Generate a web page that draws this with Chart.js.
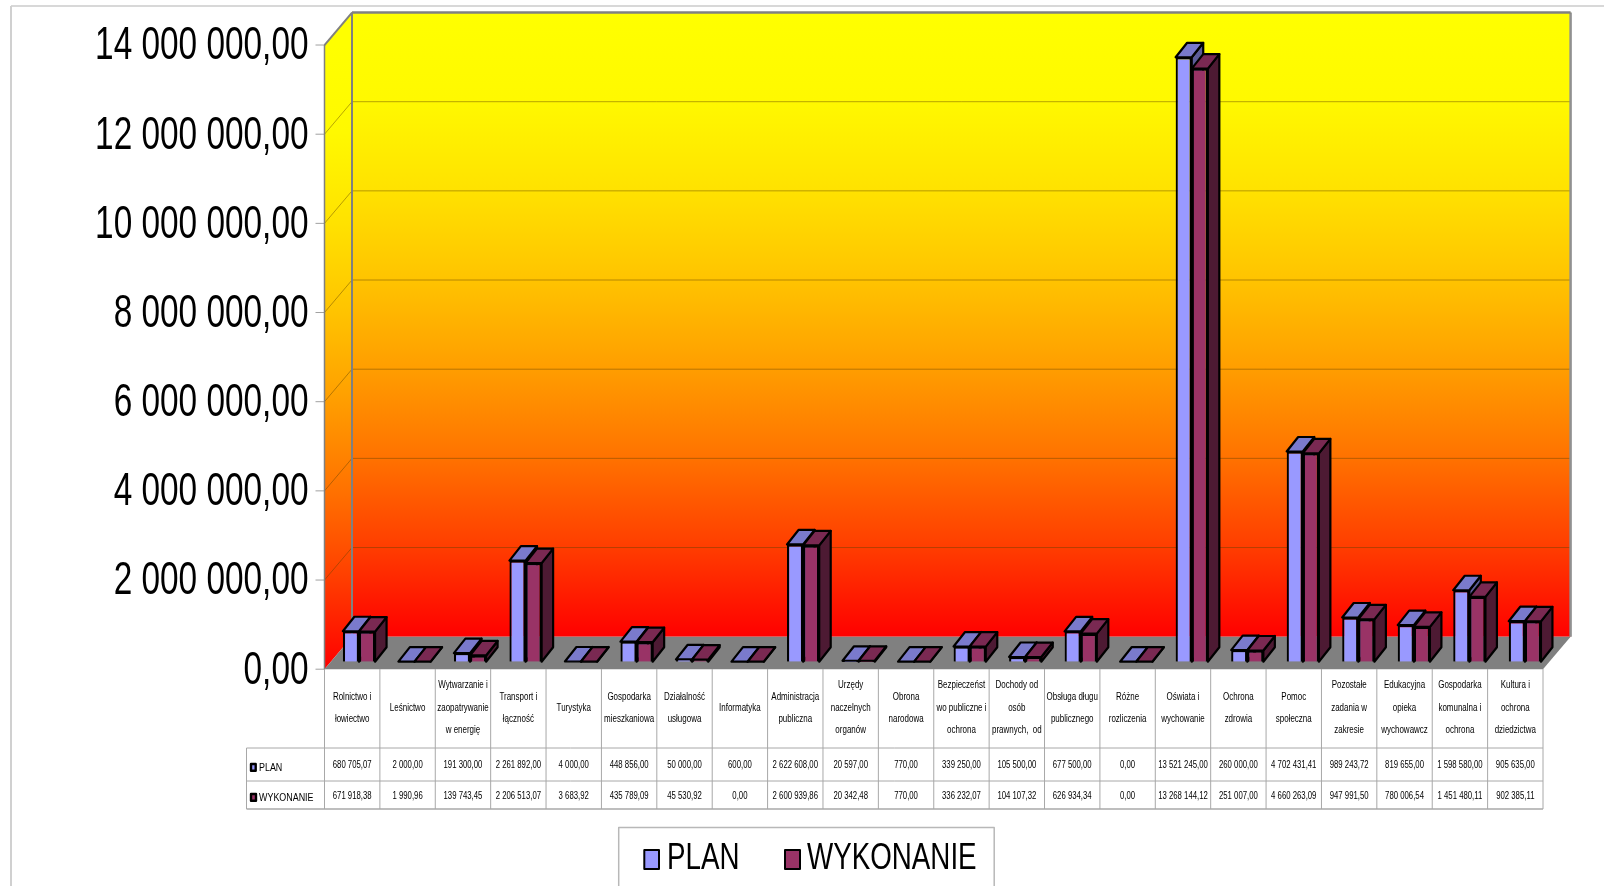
<!DOCTYPE html>
<html>
<head>
<meta charset="utf-8">
<title>Plan i wykonanie</title>
<script src="https://cdn.jsdelivr.net/npm/chart.js@4"></script>
<style>
html,body{margin:0;padding:0;background:#fff;}
canvas{display:block;}
</style>
</head>
<body>
<canvas id="budgetChart" width="1604" height="886"></canvas>
<script>
var categories = [
["Rolnictwo i","łowiectwo"],["Leśnictwo"],["Wytwarzanie i","zaopatrywanie","w energię"],["Transport i","łączność"],
["Turystyka"],["Gospodarka","mieszkaniowa"],["Działalność","usługowa"],["Informatyka"],["Administracja","publiczna"],
["Urzędy","naczelnych","organów"],["Obrona","narodowa"],["Bezpieczeńst","wo publiczne i","ochrona"],["Dochody od","osób","prawnych,  od"],
["Obsługa długu","publicznego"],["Różne","rozliczenia"],["Oświata i","wychowanie"],["Ochrona","zdrowia"],["Pomoc","społeczna"],
["Pozostałe","zadania w","zakresie"],["Edukacyjna","opieka","wychowawcz"],["Gospodarka","komunalna i","ochrona"],["Kultura i","ochrona","dziedzictwa"]
];
var plan = [680705.07,2000,191300,2261892,4000,448856,50000,600,2622608,20597,770,339250,105500,677500,0,13521245,260000,4702431.41,989243.72,819655,1598580,905635];
var wykonanie = [671918.38,1990.96,139743.45,2206513.07,3683.92,435789.09,45530.92,0,2600939.86,20342.48,770,336232.07,104107.32,626934.34,0,13268144.12,251007,4660263.09,947991.50,780006.54,1451480.11,902385.11];
var seriesNames = ["PLAN","WYKONANIE"];
var frontColors = ["#9999ff","#993366"];
var topColors = ["#7a7acc","#7a2952"];
var sideColors = ["#5c5c99","#4d1a33"];
var wallStops = [[0,'#ffff00'],[0.14,'#fff900'],[0.284,'#ffe200'],[0.425,'#ffc400'],[0.569,'#ff9e00'],[0.713,'#ff7200'],[0.854,'#ff3e00'],[1,'#ff0000']];

// polish number format, 1 234,50
function fmt(v) {
    var p = v.toFixed(2).split('.');
    return p[0].replace(/\B(?=(\d{3})+$)/g, ' ') + ',' + p[1];
}

// squeezed text, arial narrow look
function txt(ctx, s, x, y, size, squeeze, align) {
    ctx.save();
    ctx.font = size + 'px "Liberation Sans"';
    ctx.fillStyle = '#000';
    ctx.textBaseline = 'middle';
    ctx.textAlign = align || 'center';
    ctx.translate(x, y);
    ctx.scale(squeeze, 1);
    ctx.fillText(s, 0, 0);
    ctx.restore();
}

function line(ctx, x1, y1, x2, y2, color, w) {
    ctx.strokeStyle = color;
    ctx.lineWidth = w;
    ctx.beginPath();
    ctx.moveTo(x1, y1);
    ctx.lineTo(x2, y2);
    ctx.stroke();
}

function poly(ctx, pts, fill, stroke, w) {
    ctx.beginPath();
    ctx.moveTo(pts[0][0], pts[0][1]);
    for (var i = 1; i < pts.length; i++) ctx.lineTo(pts[i][0], pts[i][1]);
    ctx.closePath();
    ctx.fillStyle = fill;
    ctx.fill();
    if (stroke) {
        ctx.strokeStyle = stroke;
        ctx.lineWidth = w;
        ctx.lineJoin = 'round';
        ctx.stroke();
    }
}

function wallGradient(ctx, y1, y2) {
    var g = ctx.createLinearGradient(0, y1, 0, y2);
    wallStops.forEach(function(s) { g.addColorStop(s[0], s[1]); });
    return g;
}

var barDx = 11.5, barDy = 14.5;     // bar depth
var frontL = -6.7, frontR = -9.6;   // chart area to front edge of the floor
var wallL = 20.8, wallR = 18;       // chart area to back wall
var frontK = 0.9974;                // walls are a touch flatter than the bars

// walls, floor and gridlines
var walls = {
    id: 'walls',
    beforeDatasetsDraw: function(chart) {
        var ctx = chart.ctx, a = chart.chartArea, ys = chart.scales.y;
        var y0 = ys.getPixelForValue(0);
        var fy = function(v) { return y0 + 7.5 - (y0 - ys.getPixelForValue(v)) * frontK; };
        var wy = function(v) { return y0 - 25 - (y0 - ys.getPixelForValue(v)) * frontK; };
        var fl = a.left + frontL, fr = a.right + frontR, wl = a.left + wallL, wr = a.right + wallR;
        ctx.save();
        ctx.fillStyle = wallGradient(ctx, wy(14000000), wy(0));
        ctx.fillRect(wl, wy(14000000), wr - wl, wy(0) - wy(14000000));
        poly(ctx, [[fl, fy(14000000)], [wl, wy(14000000)], [wl, wy(0)], [fl, fy(0)]], wallGradient(ctx, fy(14000000), fy(0)));
        poly(ctx, [[fl, fy(0)], [fr, fy(0)], [wr, wy(0)], [wl, wy(0)]], '#808080');
        ys.ticks.forEach(function(t) {
            if (t.value > 0 && t.value < 14000000) {
                line(ctx, wl, wy(t.value), wr, wy(t.value), 'rgba(96,64,0,0.45)', 1);
                line(ctx, fl, fy(t.value), wl, wy(t.value), 'rgba(96,64,0,0.45)', 1);
            }
            line(ctx, fl - 9, fy(t.value), fl, fy(t.value), '#a0a0a0', 1);
            txt(ctx, t.label, fl - 16, fy(t.value) + 1.5, 47, 0.71, 'right');
        });
        line(ctx, fl, fy(14000000), fl, fy(0), '#808080', 1.5);
        line(ctx, wl, wy(14000000), wl, wy(0), '#808080', 2);
        line(ctx, wr, wy(14000000), wr, wy(0), '#909090', 2.5);
        line(ctx, wl, wy(14000000), wr, wy(14000000), '#808080', 2.5);
        line(ctx, fl, fy(14000000), wl, wy(14000000), '#808080', 2);

        // top and side faces of the bars, fronts are the chart's own bars
        for (var d = 0; d < 2; d++) {
            chart.getDatasetMeta(d).data.forEach(function(b) {
                var l = b.x - b.width / 2, r = b.x + b.width / 2, t = b.y, bt = b.base;
                if (d == 1 || bt - t > 0) {
                    poly(ctx, [[r, t], [r + barDx, t - barDy], [r + barDx, bt - barDy], [r, bt]], sideColors[d], '#000', 2.2);
                }
                poly(ctx, [[l, t], [l + barDx, t - barDy], [r + barDx, t - barDy], [r, t]], topColors[d], '#000', 2.2);
            });
        }
        ctx.restore();
    }
};

// data table under the plot plus the legend box
var dataTable = {
    id: 'dataTable',
    afterDraw: function(chart) {
        var ctx = chart.ctx, a = chart.chartArea;
        var left = a.left + frontL, right = a.right + frontR, tl = 246.5;
        var rows = [669, 748, 781, 809];
        var cw = (right - left) / categories.length;
        ctx.save();
        var c = '#a8a8a8';
        line(ctx, tl, rows[1], right, rows[1], c, 1);
        line(ctx, tl, rows[2], right, rows[2], c, 1);
        line(ctx, tl, rows[3], right, rows[3], c, 1.5);
        line(ctx, tl, rows[1], tl, rows[3], c, 1);
        for (var i = 0; i <= categories.length; i++) {
            line(ctx, left + i * cw, rows[0], left + i * cw, rows[3], c, 1);
        }
        categories.forEach(function(lines, i) {
            var cx = left + (i + 0.5) * cw;
            var midY = 708;
            lines.forEach(function(s, j) {
                txt(ctx, s, cx, midY + (j - (lines.length - 1) / 2) * 22.5, 10.5, 0.76);
            });
            txt(ctx, fmt(plan[i]), cx, 765, 10.5, 0.74);
            txt(ctx, fmt(wykonanie[i]), cx, 796, 10.5, 0.74);
        });
        poly(ctx, [[251, 764], [255.7, 764], [255.7, 770.7], [251, 770.7]], frontColors[0], '#000', 2.4);
        poly(ctx, [[251, 794], [256, 794], [256, 800.7], [251, 800.7]], frontColors[1], '#000', 2.4);
        txt(ctx, seriesNames[0], 259, 768, 10.5, 0.85, 'left');
        txt(ctx, seriesNames[1], 259, 798, 10.5, 0.85, 'left');

        // legend
        ctx.strokeStyle = '#b8b8b8';
        ctx.lineWidth = 1.5;
        ctx.strokeRect(618.7, 827.5, 375.5, 70);
        poly(ctx, [[644.3, 850], [659, 850], [659, 869], [644.3, 869]], frontColors[0], '#000', 2);
        poly(ctx, [[785, 850], [800, 850], [800, 869], [785, 869]], frontColors[1], '#000', 2);
        txt(ctx, seriesNames[0], 667, 859, 37, 0.75, 'left');
        txt(ctx, seriesNames[1], 807, 859, 37, 0.75, 'left');

        // outer frame of the picture
        line(ctx, 11, 6, 1604, 6, '#d8d8d8', 2);
        line(ctx, 11, 6, 11, 886, '#d0d0d0', 2);
        ctx.restore();
    }
};

new Chart("budgetChart", {
    type: "bar",
    data: {
        labels: categories,
        datasets: [
            { label: seriesNames[0], data: plan, backgroundColor: frontColors[0], borderColor: '#000', borderWidth: 2.2 },
            { label: seriesNames[1], data: wykonanie, backgroundColor: frontColors[1], borderColor: '#000', borderWidth: 2.2 }
        ]
    },
    options: {
        responsive: false,
        animation: false,
        layout: { padding: { left: 331.2, right: 51.4, top: 35.9, bottom: 224.3 } },
        datasets: { bar: { categoryPercentage: 0.58, barPercentage: 1 } },
        plugins: { legend: { display: false }, tooltip: { enabled: false }, title: { display: false } },
        scales: {
            x: { display: false },
            y: {
                display: false,
                min: 0, max: 14000000,
                ticks: { stepSize: 2000000, callback: function(v) { return fmt(v); } }
            }
        }
    },
    plugins: [walls, dataTable]
});
</script>
</body>
</html>
